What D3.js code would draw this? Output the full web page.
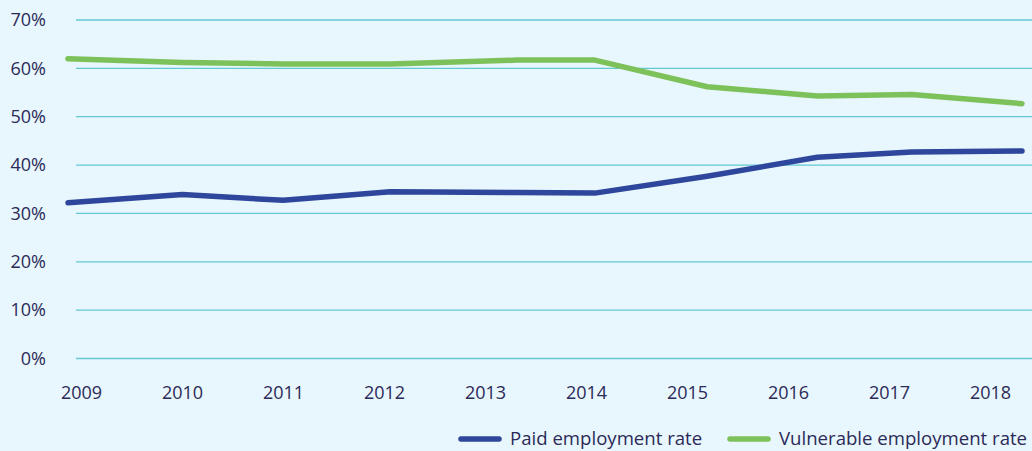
<!DOCTYPE html>
<html>
<head>
<meta charset="utf-8">
<script src="https://cdn.jsdelivr.net/npm/d3@7"></script>
<style>
  html, body { margin: 0; padding: 0; background: #e8f6fd; }
  svg { display: block; font-family: "Open Sans", "Noto Sans", sans-serif; }
</style>
</head>
<body>
<svg id="chart" width="1032" height="451"></svg>
<script>
// Year labels along the bottom axis
const yearLabels = ["2009", "2010", "2011", "2012", "2013", "2014", "2015", "2016", "2017", "2018"];
// Observation dates (decimal years) for each survey round
const surveyDates = [2009.00, 2010.08, 2011.03, 2012.04, 2013.24, 2013.97, 2015.03, 2016.07, 2016.96, 2018.00];
// Rates in percent
const paidRate = [32.1, 33.8, 32.6, 34.4, 34.2, 34.1, 37.6, 41.5, 42.6, 42.8];
const vulnerableRate = [61.9, 61.1, 60.8, 60.8, 61.6, 61.6, 56.1, 54.2, 54.5, 52.6];
// Y-axis ticks
const yTicks = [0, 10, 20, 30, 40, 50, 60, 70];
const seriesNames = ["Paid employment rate", "Vulnerable employment rate"];

const W = 1032, H = 451;
const svg = d3.select("#chart");
const textColor = "#2b2a58";
const gridColor = "#62c9d3";
const colors = ["#2e469b", "#7dc15a"];

const y = d3.scaleLinear().domain([0, 70]).range([358, 19.5]);
const xTime = d3.scaleLinear().domain([2009, 2018]).range([68, 1022]);
const xLabel = d3.scalePoint().domain(yearLabels).range([81, 990]);

// Horizontal gridlines and percent labels
const yAxis = d3.axisLeft(y).tickValues(yTicks).tickSize(-(W - 76)).tickFormat(d => d + "%");
const gy = svg.append("g").attr("transform", "translate(76,0)").call(yAxis);
gy.select(".domain").remove();
gy.selectAll(".tick line").attr("stroke", gridColor).attr("stroke-width", 1.3);
gy.selectAll(".tick text")
  .attr("x", -30).attr("dy", "0.35em")
  .attr("fill", textColor).attr("font-size", 18)
  .attr("font-family", "'Open Sans', 'Noto Sans', sans-serif");

// Year labels
const xAxis = d3.axisBottom(xLabel).tickSize(0).tickPadding(0);
const gx = svg.append("g").attr("transform", "translate(0,399)").call(xAxis);
gx.select(".domain").remove();
gx.selectAll(".tick text")
  .attr("y", 0).attr("dy", 0)
  .attr("fill", textColor).attr("font-size", 18)
  .attr("font-family", "'Open Sans', 'Noto Sans', sans-serif");

// Series lines
const series = [paidRate, vulnerableRate];
const line = d3.line()
  .x((d, i) => xTime(surveyDates[i]))
  .y(d => y(d));

svg.selectAll("path.series")
  .data(series)
  .join("path")
  .attr("class", "series")
  .attr("d", d => line(d))
  .attr("fill", "none")
  .attr("stroke", (d, i) => colors[i])
  .attr("stroke-width", 5.5)
  .attr("stroke-linecap", "round")
  .attr("stroke-linejoin", "round");

// Legend
const legendItems = [
  { name: seriesNames[0], color: colors[0], x0: 461 },
  { name: seriesNames[1], color: colors[1], x0: 730 }
];
const lg = svg.append("g");
legendItems.forEach(it => {
  lg.append("line")
    .attr("x1", it.x0).attr("x2", it.x0 + 38)
    .attr("y1", 439).attr("y2", 439)
    .attr("stroke", it.color).attr("stroke-width", 5.5)
    .attr("stroke-linecap", "round");
  lg.append("text")
    .attr("x", it.x0 + 49).attr("y", 445)
    .attr("fill", textColor).attr("font-size", 18.6)
    .text(it.name);
});
</script>
</body>
</html>
